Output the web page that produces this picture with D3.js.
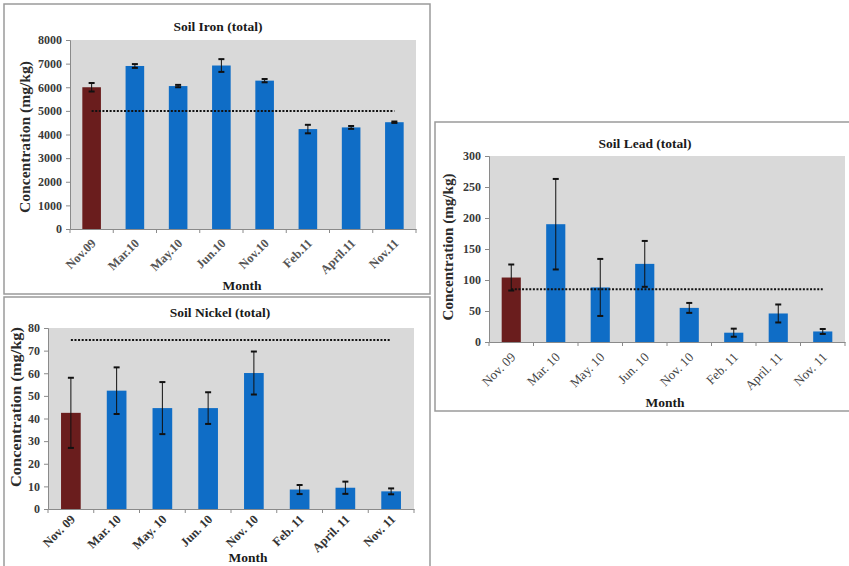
<!DOCTYPE html>
<html><head><meta charset="utf-8">
<script src="https://cdn.jsdelivr.net/npm/d3@7"></script>
<style>body{margin:0;background:#fff;} svg{display:block;}</style>
</head><body>
<svg id="c" width="849" height="566"></svg>
<script>
const ironMonths = ["Nov.09","Mar.10","May.10","Jun.10","Nov.10","Feb.11","April.11","Nov.11"];
const spacedMonths = ["Nov. 09","Mar. 10","May. 10","Jun. 10","Nov. 10","Feb. 11","April. 11","Nov. 11"];
const ironValues = [6000, 6900, 6050, 6920, 6280, 4230, 4300, 4520];
const ironErrors = [180, 80, 50, 270, 70, 180, 60, 30];
const ironLimit = 5000;
const ironTicks = [0,1000,2000,3000,4000,5000,6000,7000,8000];
const leadValues = [104, 190, 88, 126, 55, 15, 46, 17];
const leadErrors = [21, 73, 46, 37, 8, 6.5, 14.5, 4];
const leadLimit = 85;
const leadTicks = [0,50,100,150,200,250,300];
const nickelValues = [42.5, 52.3, 44.6, 44.6, 60.1, 8.6, 9.4, 7.8];
const nickelErrors = [15.5, 10.3, 11.5, 7, 9.5, 2, 2.7, 1.3];
const nickelLimit = 74.7;
const nickelTicks = [0,10,20,30,40,50,60,70,80];

const svg = d3.select("#c");
const SERIF = "'Liberation Serif','Times New Roman',serif";
const BLUE = "#0f6dc6", RED = "#6a1d1d", PLOT = "#d9d9d9";

// panel frames
const frames = [
  {x:4, y:4, w:426, h:290},
  {x:4, y:297, w:426, h:275},
  {x:435, y:122, w:420, h:289}
];
frames.forEach(f => {
  svg.append("rect").attr("x", f.x).attr("y", f.y).attr("width", f.w).attr("height", f.h)
    .attr("fill", "#fff").attr("stroke", "#9a9a9a").attr("stroke-width", 1.5);
});

function panel(cfg) {
  const g = svg.append("g");
  const x = d3.scaleBand().domain(cfg.cats).range([cfg.left, cfg.right]).padding(0);
  const y = d3.scaleLinear().domain([0, cfg.max]).range([cfg.bottom, cfg.top]);
  g.append("rect").attr("x", cfg.left).attr("y", cfg.top)
    .attr("width", cfg.right - cfg.left).attr("height", cfg.bottom - cfg.top).attr("fill", PLOT);
  const bw = x.step() * 0.43;
  const data = cfg.cats.map((c, i) => ({c, v: cfg.values[i], e: cfg.errors[i], i}));
  g.selectAll("rect.bar").data(data).join("rect").attr("class", "bar")
    .attr("x", d => x(d.c) + x.bandwidth()/2 - bw/2).attr("width", bw)
    .attr("y", d => y(d.v)).attr("height", d => y(0) - y(d.v))
    .attr("fill", d => d.i === 0 ? RED : BLUE);
  // error bars
  const eb = g.selectAll("g.err").data(data).join("g").attr("class", "err")
    .attr("stroke", "#111").attr("stroke-width", 1);
  eb.append("line").attr("x1", d => x(d.c) + x.bandwidth()/2).attr("x2", d => x(d.c) + x.bandwidth()/2)
    .attr("y1", d => y(d.v + d.e)).attr("y2", d => y(d.v - d.e));
  eb.append("line").attr("x1", d => x(d.c) + x.bandwidth()/2 - 3).attr("x2", d => x(d.c) + x.bandwidth()/2 + 3)
    .attr("y1", d => y(d.v + d.e)).attr("y2", d => y(d.v + d.e)).attr("stroke-width", 2);
  eb.append("line").attr("x1", d => x(d.c) + x.bandwidth()/2 - 3).attr("x2", d => x(d.c) + x.bandwidth()/2 + 3)
    .attr("y1", d => y(d.v - d.e)).attr("y2", d => y(d.v - d.e)).attr("stroke-width", 2);
  // limit line
  const first = cfg.cats[0], last = cfg.cats[cfg.cats.length - 1];
  g.append("line").attr("x1", x(first) + x.bandwidth()/2).attr("x2", x(last) + x.bandwidth()/2)
    .attr("y1", y(cfg.limit)).attr("y2", y(cfg.limit))
    .attr("stroke", "#111").attr("stroke-width", 2).attr("stroke-dasharray", "2,1.6");
  // y axis
  const ya = g.append("g").attr("transform", `translate(${cfg.left},0)`)
    .call(d3.axisLeft(y).tickValues(cfg.ticks).tickSize(4).tickPadding(4).tickFormat(d3.format("d")));
  ya.select(".domain").attr("stroke", "#8a8a8a");
  ya.selectAll(".tick line").attr("stroke", "#8a8a8a");
  ya.selectAll("text").attr("font-family", SERIF).attr("font-size", cfg.tickSize).attr("font-weight", "bold")
    .attr("fill", "#3a3a3a");
  // x axis
  const xa = g.append("g").attr("transform", `translate(0,${cfg.bottom})`)
    .call(d3.axisBottom(x).tickSize(0).tickPadding(0));
  xa.select(".domain").attr("stroke", "#8a8a8a");
  xa.selectAll(".tick text").attr("font-family", SERIF).attr("font-size", cfg.xTickSize)
    .attr("font-weight", cfg.xTickWeight).attr("fill", cfg.xTickColor)
    .attr("text-anchor", "end").attr("dy", 0).attr("y", 0)
    .attr("transform", `translate(5,${cfg.xTickDy}) rotate(-45)`);
  // boundary ticks
  const bounds = d3.range(cfg.cats.length + 1).map(i => cfg.left + i * x.step());
  g.selectAll("line.bt").data(bounds).join("line").attr("class", "bt")
    .attr("x1", d => d).attr("x2", d => d).attr("y1", cfg.bottom).attr("y2", cfg.bottom + 4)
    .attr("stroke", "#8a8a8a");
  // title
  g.append("text").attr("x", cfg.titleX).attr("y", cfg.titleY).attr("text-anchor", "middle")
    .attr("font-family", SERIF).attr("font-weight", "bold").attr("font-size", 13.5).attr("fill", "#1a1a1a")
    .text(cfg.title);
  // axis titles
  g.append("text").attr("transform", `translate(${cfg.ylabX},${cfg.ylabY}) rotate(-90)`)
    .attr("text-anchor", "middle").attr("font-family", SERIF).attr("font-weight", "bold")
    .attr("font-size", cfg.ylabSize).attr("fill", "#2a2a2a").attr("dy", "0.35em")
    .attr("textLength", cfg.ylabLen).attr("lengthAdjust", "spacingAndGlyphs")
    .text("Concentration (mg/kg)");
  g.append("text").attr("x", cfg.monthX).attr("y", cfg.monthY).attr("text-anchor", "middle")
    .attr("font-family", SERIF).attr("font-weight", "bold").attr("font-size", 13.5).attr("fill", "#1a1a1a")
    .attr("dy", "0.35em").text("Month");
}

panel({cats: ironMonths, values: ironValues, errors: ironErrors, limit: ironLimit, ticks: ironTicks, max: 8000,
  left: 70, right: 416, top: 40, bottom: 229, title: "Soil Iron (total)", titleX: 218, titleY: 31,
  ylabX: 25, ylabY: 137, ylabSize: 14.5, ylabLen: 152, monthX: 242, monthY: 285, tickSize: 12,
  xTickSize: 12.5, xTickWeight: "bold", xTickColor: "#555", xTickDy: 15});
panel({cats: spacedMonths, values: leadValues, errors: leadErrors, limit: leadLimit, ticks: leadTicks, max: 300,
  left: 489, right: 845, top: 156, bottom: 342, title: "Soil Lead (total)", titleX: 645, titleY: 148,
  ylabX: 448, ylabY: 247, ylabSize: 14, ylabLen: 147, monthX: 665, monthY: 402, tickSize: 12,
  xTickSize: 13, xTickWeight: "normal", xTickColor: "#444", xTickDy: 16});
panel({cats: spacedMonths, values: nickelValues, errors: nickelErrors, limit: nickelLimit, ticks: nickelTicks, max: 80,
  left: 48, right: 414, top: 328, bottom: 509, title: "Soil Nickel (total)", titleX: 220, titleY: 317,
  ylabX: 16, ylabY: 407, ylabSize: 14, ylabLen: 160, monthX: 248, monthY: 557, tickSize: 12,
  xTickSize: 12.5, xTickWeight: "bold", xTickColor: "#333", xTickDy: 11});
</script>
</body></html>
